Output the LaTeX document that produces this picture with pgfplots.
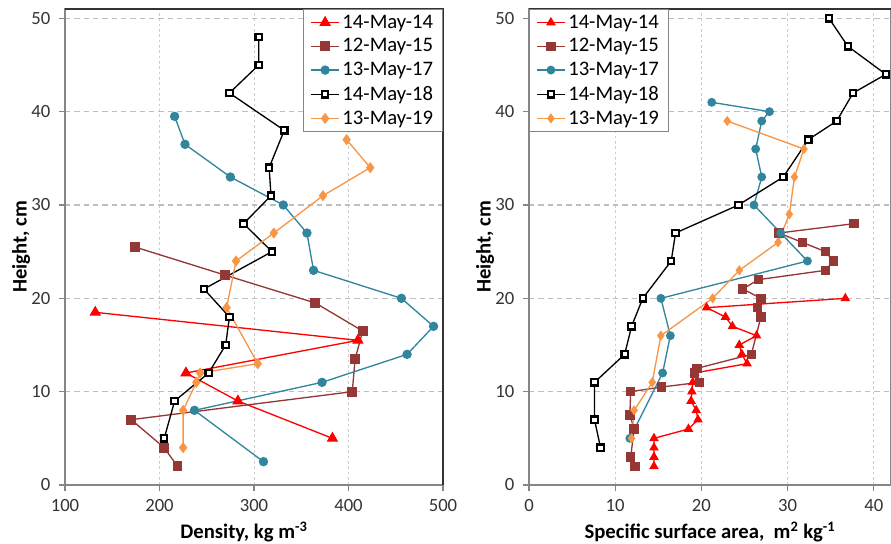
\documentclass[border=0pt]{standalone}
\usepackage{fontspec}
\setmainfont{Carlito}
\usepackage{pgfplots}
\pgfplotsset{compat=1.18}
\definecolor{cred}{HTML}{FF0000}
\definecolor{cbrown}{HTML}{953735}
\definecolor{cteal}{HTML}{31859C}
\definecolor{corange}{HTML}{F79646}
\definecolor{gridgray}{HTML}{BFBFBF}
\definecolor{axgray}{HTML}{868686}
\pgfplotsset{
  common/.style={
    scale only axis, height=357pt,
    ymin=0, ymax=51, ytick={0,10,...,50},
    /pgf/number format/assume math mode=true,
    tick label style={font=\fontsize{14}{16}\selectfont, text=black!80},
    xticklabel style={yshift=-3pt},
    yticklabel style={xshift=-3pt},
    label style={font=\bfseries\fontsize{15.5}{18}\selectfont},
    ylabel shift=-6pt,
    axis line style={axgray, line width=0.9pt},
    tick style={axgray, line width=0.9pt},
    tick align=outside, major tick length=4.5pt,
    xtick pos=lower, ytick pos=left,
    ymajorgrids, xmajorgrids,
    major y grid style={gridgray, line width=0.9pt, dash pattern=on 4pt off 3pt},
    major x grid style={gridgray!80, line width=0.6pt, dash pattern=on 2pt off 2pt},
    legend style={draw=axgray, fill=white, line width=0.8pt, font=\fontsize{15.5}{18}\selectfont,
      inner xsep=5pt, inner ysep=2pt, row sep=2.3pt},
    legend cell align=left,
    legend image code/.code={\draw[mark repeat=2,mark phase=2,##1] plot coordinates {(0cm,0cm) (0.37cm,0cm) (0.74cm,0cm)};},
    clip=false,
  },
  sred/.style={cred, line width=1pt, mark=triangle*, mark options={solid, fill=cred}},
  sbrown/.style={cbrown, line width=1pt, mark=square*, mark options={solid, fill=cbrown}},
  steal/.style={cteal, line width=1pt, mark=*, mark options={solid, fill=cteal}},
  sblack/.style={black, line width=1pt, mark=square*, mark options={solid, fill=white, line width=1.6pt}, mark size=2.4pt},
  sorange/.style={corange, line width=1pt, mark=diamond*, mark options={solid, fill=corange}},
}
\begin{document}
\begin{tikzpicture}
\begin{axis}[common, width=283.5pt,
  at={(48.75pt,43.5pt)}, anchor=south west,
  xmin=100, xmax=500, xtick={100,200,...,500},
  xlabel={Density, kg m\textsuperscript{-3}},
  xlabel style={xshift=-7.5pt, yshift=-1pt},
  ylabel={Height, cm},
  legend style={at={(1,1)}, anchor=north east},
  after end axis/.code={\draw[black!80, line width=1.1pt] (rel axis cs:0,1) -- (rel axis cs:1,1) -- (rel axis cs:1,0);},
]
\addplot[sred, mark size=4pt] coordinates {(132,18.5) (410,15.5) (228,12) (283,9) (383,5)};
\addlegendentry{14-May-14}
\addplot[sbrown, mark size=3.2pt] coordinates {(174,25.5) (269,22.5) (365,19.5) (415,16.5) (407,13.5) (404,10) (170,7) (205,4) (219,2)};
\addlegendentry{12-May-15}
\addplot[steal, mark size=3pt] coordinates {(216,39.5) (227,36.5) (275,33) (331,30) (356,27) (363,23) (456,20) (490,17) (462,14) (372,11) (237,8) (310,2.5)};
\addlegendentry{13-May-17}
\addplot[sblack] coordinates {(305,48) (305,45) (274,42) (332,38) (316,34) (318,31) (289,28) (319,25) (247,21) (274,18) (270,15) (252,12) (216,9) (205,5)};
\addlegendentry{14-May-18}
\addplot[sorange, mark size=3.4pt] coordinates {(398,37) (423,34) (373,31) (321,27) (281,24) (271,19) (304,13) (243,12) (239,11) (225,8) (225,4)};
\addlegendentry{13-May-19}
\end{axis}
\begin{axis}[common, width=271.5pt,
  at={(396.75pt,43.5pt)}, anchor=south west,
  xmin=0, xmax=42, xtick={0,10,...,40},
  xlabel={Specific surface area,\ \ m\textsuperscript{2} kg\textsuperscript{-1}},
  xlabel style={yshift=-1pt},
  ylabel={Height, cm},
  legend style={at={(0,1)}, anchor=north west},
  after end axis/.code={\draw[black!80, line width=1.1pt] (rel axis cs:0,1) -- (rel axis cs:1,1);},
]
\addplot[sred, mark size=3.2pt] coordinates {(36.7,20) (20.6,19) (22.8,18) (23.6,17) (26.4,16) (24.4,15) (24.7,14) (25.3,13) (19.2,12) (19,11) (18.9,10) (18.8,9) (19.4,8) (19.6,7) (18.5,6) (14.5,5) (14.5,4) (14.5,3) (14.5,2)};
\addlegendentry{14-May-14}
\addplot[sbrown, mark size=3pt] coordinates {(37.7,28) (29,27) (31.7,26) (34.4,25) (35.3,24) (34.4,23) (26.6,22) (24.8,21) (26.9,20) (26.5,19) (26.9,18) (25.8,14) (19.5,12.5) (19.2,12) (19.8,11) (15.4,10.5) (11.8,10) (11.7,7.5) (12.2,6) (11.8,3) (12.3,2)};
\addlegendentry{12-May-15}
\addplot[steal, mark size=2.8pt] coordinates {(21.2,41) (27.9,40) (27,39) (26.3,36) (27,33) (26.1,30) (29.2,27) (32.3,24) (15.3,20) (16.4,16) (15.5,12) (11.7,5)};
\addlegendentry{13-May-17}
\addplot[sblack] coordinates {(34.8,50) (37,47) (41.4,44) (37.6,42) (35.7,39) (32.4,37) (29.5,33) (24.3,30) (17,27) (16.5,24) (13.2,20) (11.9,17) (11.1,14) (7.6,11) (7.6,7) (8.3,4)};
\addlegendentry{14-May-18}
\addplot[sorange, mark size=3pt] coordinates {(23,39) (31.9,36) (30.8,33) (30.2,29) (28.9,26) (24.4,23) (21.3,20) (15.3,16) (14.3,11) (12.2,8) (11.9,5)};
\addlegendentry{13-May-19}
\end{axis}
\pgfresetboundingbox
\useasboundingbox (0,0) rectangle (668.25pt,407.25pt);
\end{tikzpicture}
\end{document}
